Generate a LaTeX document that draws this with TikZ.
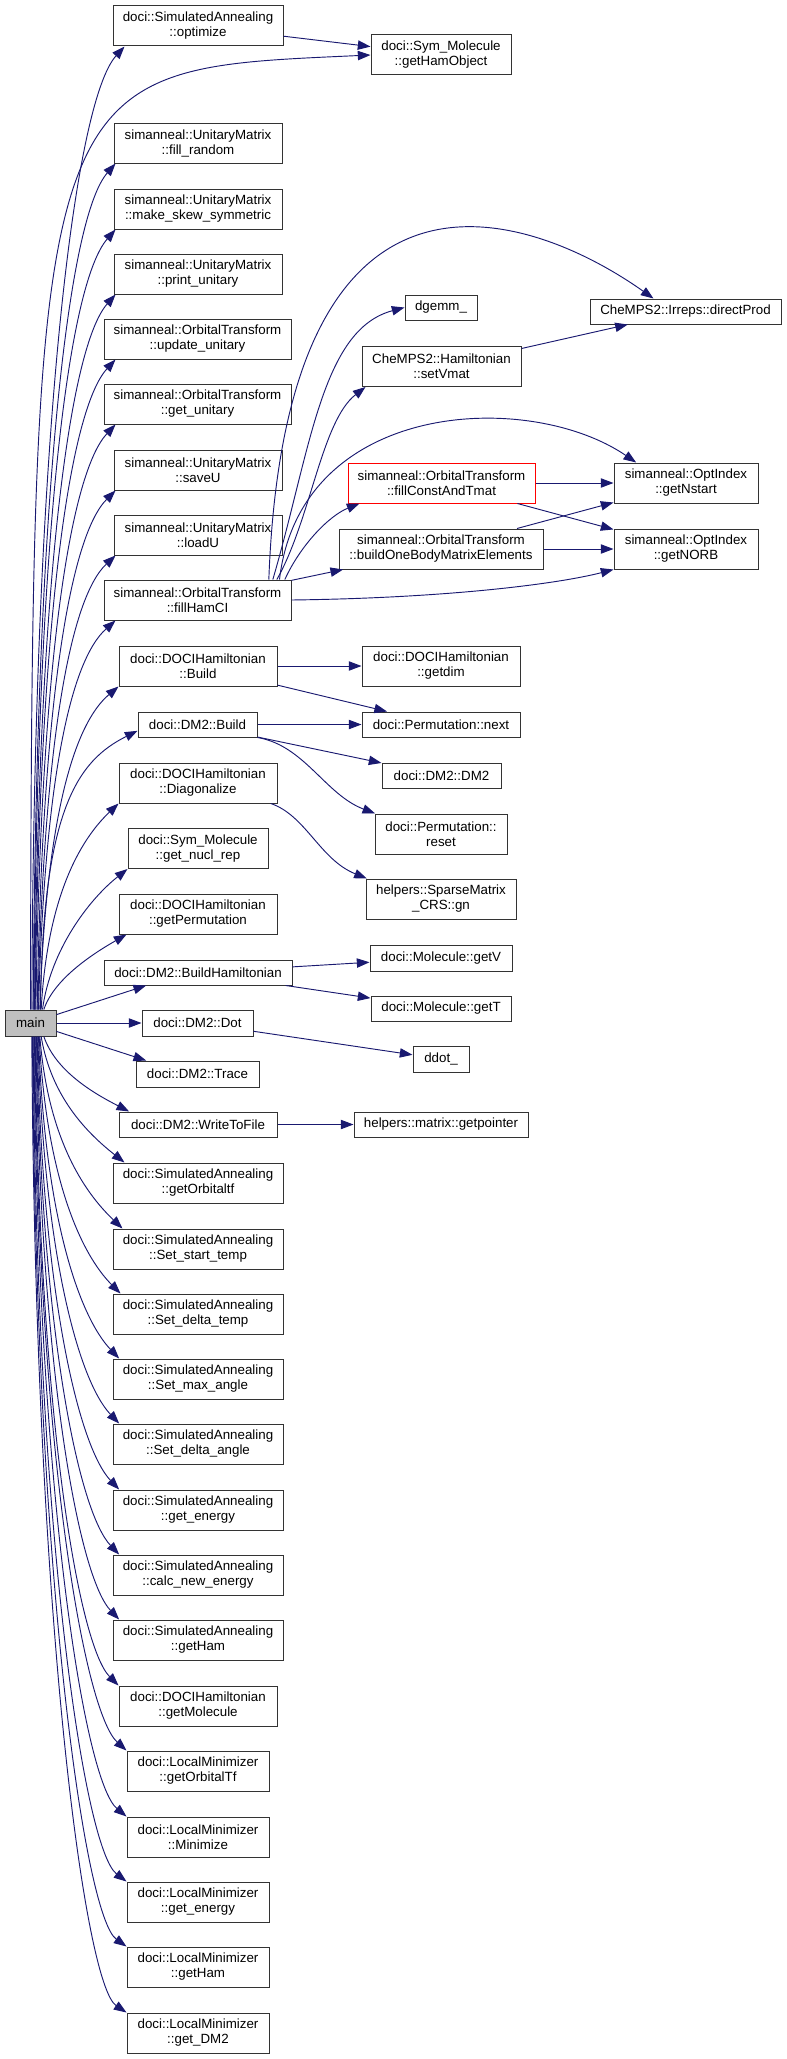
\documentclass[tikz,border=0pt]{standalone}
\usepackage{fontspec}
\setmainfont{Liberation Sans}
\usetikzlibrary{arrows.meta}
\definecolor{callblue}{RGB}{25,25,112}
\definecolor{maingray}{RGB}{191,191,191}

\begin{document}
\begin{tikzpicture}[
  x=0.75pt,y=-0.75pt,
  fn/.style={draw=black!80,fill=white,line width=0.75pt,inner sep=0pt,align=center,
    font=\fontsize{10pt}{11.25pt}\selectfont},
  box1/.style={fn,minimum height=18.75pt},
  box2/.style={fn,minimum height=30pt},
  call/.style={callblue,line width=0.7pt,-{Triangle[length=9.5pt,width=7pt]}}
]
  \useasboundingbox (0,0) rectangle (787,2059);
  % Caller
  \node[box1,fill=maingray,minimum width=38.25pt,minimum height=19.5pt] (main) at (30.5,1023) {main};
  % Direct callees
  \node[box2,minimum width=127.5pt] (opt) at (198,26) {doci::SimulatedAnnealing\\::optimize};
  \node[box2,minimum width=126pt] (fillrand) at (198,143) {simanneal::UnitaryMatrix\\::fill\_random};
  \node[box2,minimum width=126pt] (skew) at (198,209) {simanneal::UnitaryMatrix\\::make\_skew\_symmetric};
  \node[box2,minimum width=126pt] (printu) at (198,274) {simanneal::UnitaryMatrix\\::print\_unitary};
  \node[box2,minimum width=140.25pt] (updu) at (197.5,339) {simanneal::OrbitalTransform\\::update\_unitary};
  \node[box2,minimum width=140.25pt] (getu) at (197.5,404) {simanneal::OrbitalTransform\\::get\_unitary};
  \node[box2,minimum width=126pt] (saveu) at (198,470) {simanneal::UnitaryMatrix\\::saveU};
  \node[box2,minimum width=126pt] (loadu) at (198,535) {simanneal::UnitaryMatrix\\::loadU};
  \node[box2,minimum width=140.25pt] (fillham) at (197.5,600) {simanneal::OrbitalTransform\\::fillHamCI};
  \node[box2,minimum width=118.5pt] (dbuild) at (198,666) {doci::DOCIHamiltonian\\::Build};
  \node[box1,minimum width=89.25pt] (dmbuild) at (197.5,724.5) {doci::DM2::Build};
  \node[box2,minimum width=118.5pt] (diag) at (198,783) {doci::DOCIHamiltonian\\::Diagonalize};
  \node[box2,minimum width=105pt] (nucl) at (198,848.5) {doci::Sym\_Molecule\\::get\_nucl\_rep};
  \node[box2,minimum width=118.5pt] (getperm) at (198,914) {doci::DOCIHamiltonian\\::getPermutation};
  \node[box1,minimum width=141pt] (buildham) at (198,972.5) {doci::DM2::BuildHamiltonian};
  \node[box1,minimum width=83.25pt,minimum height=19.5pt] (dot) at (197.5,1023) {doci::DM2::Dot};
  \node[box1,minimum width=92.25pt,minimum height=19.5pt] (trace) at (197.5,1074) {doci::DM2::Trace};
  \node[box1,minimum width=118.5pt] (write) at (198,1124.5) {doci::DM2::WriteToFile};
  \node[box2,minimum width=127.5pt] (getorb) at (198,1183) {doci::SimulatedAnnealing\\::getOrbitaltf};
  \node[box2,minimum width=127.5pt] (starttemp) at (198,1249) {doci::SimulatedAnnealing\\::Set\_start\_temp};
  \node[box2,minimum width=127.5pt] (deltatemp) at (198,1314) {doci::SimulatedAnnealing\\::Set\_delta\_temp};
  \node[box2,minimum width=127.5pt] (maxangle) at (198,1379) {doci::SimulatedAnnealing\\::Set\_max\_angle};
  \node[box2,minimum width=127.5pt] (deltaangle) at (198,1444) {doci::SimulatedAnnealing\\::Set\_delta\_angle};
  \node[box2,minimum width=127.5pt] (energy) at (198,1510) {doci::SimulatedAnnealing\\::get\_energy};
  \node[box2,minimum width=127.5pt] (calc) at (198,1575) {doci::SimulatedAnnealing\\::calc\_new\_energy};
  \node[box2,minimum width=127.5pt] (sagetham) at (198,1640) {doci::SimulatedAnnealing\\::getHam};
  \node[box2,minimum width=118.5pt] (getmol) at (198,1706) {doci::DOCIHamiltonian\\::getMolecule};
  \node[box2,minimum width=106.5pt] (lmorb) at (198,1771) {doci::LocalMinimizer\\::getOrbitalTf};
  \node[box2,minimum width=106.5pt] (lmmin) at (198,1837) {doci::LocalMinimizer\\::Minimize};
  \node[box2,minimum width=106.5pt] (lmenergy) at (198,1902) {doci::LocalMinimizer\\::get\_energy};
  \node[box2,minimum width=106.5pt] (lmham) at (198,1967) {doci::LocalMinimizer\\::getHam};
  \node[box2,minimum width=106.5pt] (lmdm2) at (198,2033) {doci::LocalMinimizer\\::get\_DM2};
  % Second level
  \node[box2,minimum width=105pt] (hamobj) at (441,55) {doci::Sym\_Molecule\\::getHamObject};
  \node[box1,minimum width=54pt] (dgemm) at (441,307.5) {dgemm\_};
  \node[box1,minimum width=143.25pt] (dirprod) at (685.5,311.5) {CheMPS2::Irreps::directProd};
  \node[box2,minimum width=119.25pt] (setvmat) at (441.5,366.5) {CheMPS2::Hamiltonian\\::setVmat};
  \node[box2,minimum width=140.25pt,draw=red] (fillconst) at (441.5,483) {simanneal::OrbitalTransform\\::fillConstAndTmat};
  \node[box2,minimum width=153pt] (buildone) at (441,549) {simanneal::OrbitalTransform\\::buildOneBodyMatrixElements};
  \node[box2,minimum width=108pt] (nstart) at (686,483) {simanneal::OptIndex\\::getNstart};
  \node[box2,minimum width=108pt] (norb) at (686,549) {simanneal::OptIndex\\::getNORB};
  \node[box2,minimum width=118.5pt] (getdim) at (441,666) {doci::DOCIHamiltonian\\::getdim};
  \node[box1,minimum width=118.5pt] (permnext) at (441,724.5) {doci::Permutation::next};
  \node[box1,minimum width=89.25pt] (dm2dm2) at (441.5,775.5) {doci::DM2::DM2};
  \node[box2,minimum width=99pt] (permreset) at (441,834) {doci::Permutation::\\reset};
  \node[box2,minimum width=112.5pt] (sparse) at (441,899) {helpers::SparseMatrix\\\_CRS::gn};
  \node[box1,minimum width=106.5pt,minimum height=19.5pt] (getv) at (441,958) {doci::Molecule::getV};
  \node[box1,minimum width=105pt] (gett) at (441,1008.5) {doci::Molecule::getT};
  \node[box1,minimum width=42pt,minimum height=19.5pt] (ddot) at (441,1059) {ddot\_};
  \node[box1,minimum width=130.5pt] (getptr) at (441,1124.5) {helpers::matrix::getpointer};
  % Calls from main, upwards
  \draw[call] ([xshift=1pt]main.north) .. controls +(2,-580) and +(-50,55) .. ([xshift=9pt]opt.south west);
  \draw[call] (main.north) .. controls +(1.5,-950) and +(-331,15) .. (hamobj.west);
  \draw[call] ([xshift=2pt]main.north) .. controls +(3,-510) and +(-48,55) .. ([xshift=1.5pt]fillrand.south west);
  \draw[call] ([xshift=2.5pt]main.north) .. controls +(3,-470) and +(-48,55) .. ([xshift=1.5pt]skew.south west);
  \draw[call] ([xshift=3pt]main.north) .. controls +(4,-430) and +(-46,52) .. ([xshift=1.5pt]printu.south west);
  \draw[call] ([xshift=3.5pt]main.north) .. controls +(4,-390) and +(-46,50) .. ([xshift=9pt]updu.south west);
  \draw[call] ([xshift=4pt]main.north) .. controls +(5,-350) and +(-45,48) .. ([xshift=9pt]getu.south west);
  \draw[call] ([xshift=5pt]main.north) .. controls +(5,-310) and +(-45,45) .. ([xshift=1.5pt]saveu.south west);
  \draw[call] ([xshift=5.5pt]main.north) .. controls +(6,-270) and +(-45,42) .. ([xshift=1.5pt]loadu.south west);
  \draw[call] ([xshift=6pt]main.north) .. controls +(6,-230) and +(-45,40) .. ([xshift=9pt]fillham.south west);
  \draw[call] ([xshift=7pt]main.north) .. controls +(6,-190) and +(-45,38) .. (dbuild.south west);
  \draw[call] ([xshift=7.5pt]main.north) .. controls +(2,-200) and +(-60,30) .. (dmbuild.186);
  \draw[call] ([xshift=8pt]main.north) .. controls +(6,-110) and +(-40,38) .. (diag.south west);
  \draw[call] ([xshift=9pt]main.north) .. controls +(8,-60) and +(-38,30) .. (nucl.south west);
  \draw[call] ([xshift=10pt]main.north) .. controls +(10,-30) and +(-35,20) .. ([xshift=6pt]getperm.south west);
  \draw[call] (main) -- ([xshift=32pt]buildham.south west);
  \draw[call] (main) -- (dot);
  \draw[call] (main) -- ([xshift=8pt]trace.north west);
  % Calls from main, downwards
  \draw[call] ([xshift=10pt]main.south) .. controls +(12,35) and +(-35,-18) .. ([xshift=8pt]write.north west);
  \draw[call] ([xshift=8pt]main.south) .. controls +(10,60) and +(-38,-30) .. ([xshift=9pt]getorb.north west);
  \draw[call] ([xshift=7pt]main.south) .. controls +(8,100) and +(-40,-38) .. ([xshift=7.5pt]starttemp.north west);
  \draw[call] ([xshift=6.5pt]main.south) .. controls +(7,140) and +(-40,-40) .. ([xshift=6pt]deltatemp.north west);
  \draw[call] ([xshift=6pt]main.south) .. controls +(6,180) and +(-40,-42) .. ([xshift=5pt]maxangle.north west);
  \draw[call] ([xshift=5.5pt]main.south) .. controls +(6,220) and +(-40,-42) .. ([xshift=5pt]deltaangle.north west);
  \draw[call] ([xshift=5pt]main.south) .. controls +(5,260) and +(-40,-42) .. ([xshift=5pt]energy.north west);
  \draw[call] ([xshift=4.5pt]main.south) .. controls +(5,300) and +(-40,-42) .. ([xshift=5pt]calc.north west);
  \draw[call] ([xshift=4pt]main.south) .. controls +(5,340) and +(-40,-42) .. ([xshift=5pt]sagetham.north west);
  \draw[call] ([xshift=3.5pt]main.south) .. controls +(4,380) and +(-40,-40) .. (getmol.north west);
  \draw[call] ([xshift=3pt]main.south) .. controls +(4,420) and +(-42,-38) .. (lmorb.north west);
  \draw[call] ([xshift=2.5pt]main.south) .. controls +(4,460) and +(-42,-35) .. (lmmin.north west);
  \draw[call] ([xshift=2pt]main.south) .. controls +(3,500) and +(-42,-32) .. (lmenergy.north west);
  \draw[call] ([xshift=1.5pt]main.south) .. controls +(3,540) and +(-42,-30) .. (lmham.north west);
  \draw[call] ([xshift=1pt]main.south) .. controls +(3,580) and +(-42,-28) .. (lmdm2.north west);
  % Second level calls
  \draw[call] (opt) -- (hamobj);
  \draw[call] ([xshift=-17pt]fillham.north east) .. controls +(17,-460) and +(-120,-85) .. ([xshift=-24pt]dirprod.north);
  \draw[call] ([xshift=-14pt]fillham.north east) .. controls +(38,-130) and +(-83,22) .. (dgemm.west);
  \draw[call] ([xshift=-11pt]fillham.north east) .. controls +(34,-60) and +(-44,34) .. ([xshift=3pt]setvmat.south west);
  \draw[call] ([xshift=-9pt]fillham.north east) .. controls +(21,-180) and +(-107,-73) .. ([xshift=17pt]nstart.north west);
  \draw[call] ([xshift=-5pt]fillham.north east) .. controls +(16,-35) and +(-30,12) .. ([xshift=9pt]fillconst.south west);
  \draw[call] (fillham) -- (buildone);
  \draw[call] (fillham.east) .. controls +(159,-2) and +(-54,14) .. (norb.south west);
  \draw[call] (setvmat) -- (dirprod);
  \draw[call] (fillconst) -- (nstart);
  \draw[call] (fillconst) -- (norb);
  \draw[call] (buildone) -- (nstart);
  \draw[call] (buildone) -- (norb);
  \draw[call] (dbuild) -- (getdim);
  \draw[call] (dbuild) -- (permnext);
  \draw[call] (dmbuild) -- (permnext);
  \draw[call] (dmbuild) -- (dm2dm2);
  \draw[call] (dmbuild.south east) .. controls +(47,8) and +(-50,-19) .. ([xshift=0.5pt]permreset.north west);
  \draw[call] ([xshift=-5pt]diag.south east) .. controls +(35,12) and +(-47,-19) .. ([xshift=1pt]sparse.north west);
  \draw[call] (buildham) -- (getv);
  \draw[call] (buildham) -- (gett);
  \draw[call] (dot) -- (ddot);
  \draw[call] (write) -- (getptr);
\end{tikzpicture}
\end{document}
